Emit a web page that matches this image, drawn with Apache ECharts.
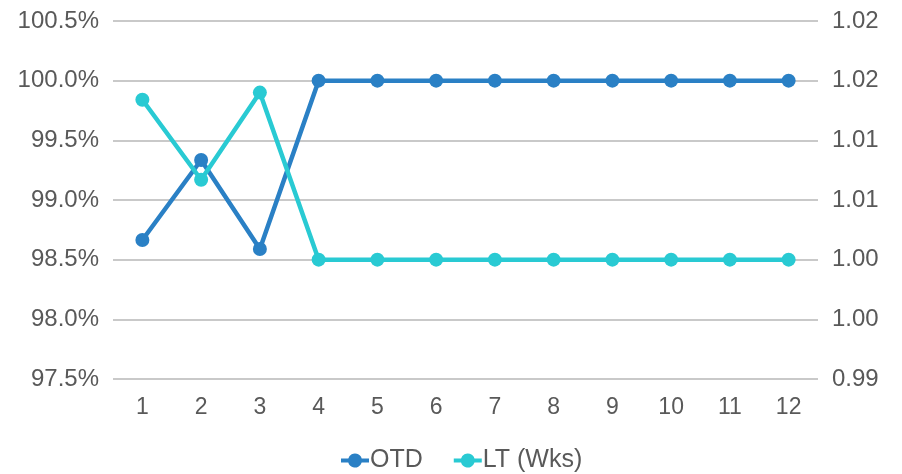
<!DOCTYPE html>
<html>
<head>
<meta charset="utf-8">
<script src="https://cdn.jsdelivr.net/npm/echarts@6/dist/echarts.min.js"></script>
<style>html,body{margin:0;padding:0;background:#fff;}#c{width:902px;height:474px;}</style>
</head>
<body>
<div id="c"></div>
<script>
const categories = ['1','2','3','4','5','6','7','8','9','10','11','12'];
const otd = [98.665, 99.335, 98.59, 100, 100, 100, 100, 100, 100, 100, 100, 100];
const lt = [1.0134, 1.0067, 1.0140, 1.0, 1.0, 1.0, 1.0, 1.0, 1.0, 1.0, 1.0, 1.0];
const rightTickLabels = ['0.99','1.00','1.00','1.01','1.01','1.02','1.02'];

const chart = echarts.init(document.getElementById('c'));
const font = 'Liberation Sans, Arial, sans-serif';
const legendIcon = 'path://M0,5 L7.29,5 A7,7 0 0 1 20.71,5 L28,5 L28,9 L20.71,9 A7,7 0 0 1 7.29,9 L0,9 Z';
chart.setOption({
  animation: false,
  grid: { left: 113, right: 84, top: 21, bottom: 95 },
  legend: {
    data: ['OTD', 'LT (Wks)'],
    bottom: 1,
    left: 341,
    padding: 0,
    icon: legendIcon,
    itemWidth: 28,
    itemHeight: 15,
    itemGap: 31,
    textStyle: { fontFamily: font, fontSize: 25, color: '#595959', padding: [0,0,0,-4] }
  },
  xAxis: {
    type: 'category',
    data: categories,
    boundaryGap: true,
    axisLine: { show: false },
    axisTick: { show: false },
    axisLabel: { fontFamily: font, fontSize: 23, color: '#595959', margin: 17 }
  },
  yAxis: [{
    type: 'value', min: 97.5, max: 100.5, interval: 0.5,
    axisLine: { show: false }, axisTick: { show: false },
    splitLine: { lineStyle: { color: '#c9c9c9', width: 2 } },
    axisLabel: { fontFamily: font, fontSize: 24, color: '#595959', margin: 14,
      formatter: v => v.toFixed(1) + '%' }
  }, {
    type: 'value', min: 0.99, max: 1.02, interval: 0.005,
    axisLine: { show: false }, axisTick: { show: false },
    splitLine: { show: false },
    axisLabel: { fontFamily: font, fontSize: 24, color: '#595959', margin: 14,
      formatter: (v, i) => rightTickLabels[i] }
  }],
  series: [{
    name: 'OTD', type: 'line', data: otd, yAxisIndex: 0,
    symbol: 'circle', symbolSize: 14,
    itemStyle: { color: '#2a80c5' },
    lineStyle: { color: '#2a80c5', width: 4.5 }
  }, {
    name: 'LT (Wks)', type: 'line', data: lt, yAxisIndex: 1,
    symbol: 'circle', symbolSize: 14,
    itemStyle: { color: '#29cad3' },
    lineStyle: { color: '#29cad3', width: 4.5 }
  }]
});
</script>
</body>
</html>
